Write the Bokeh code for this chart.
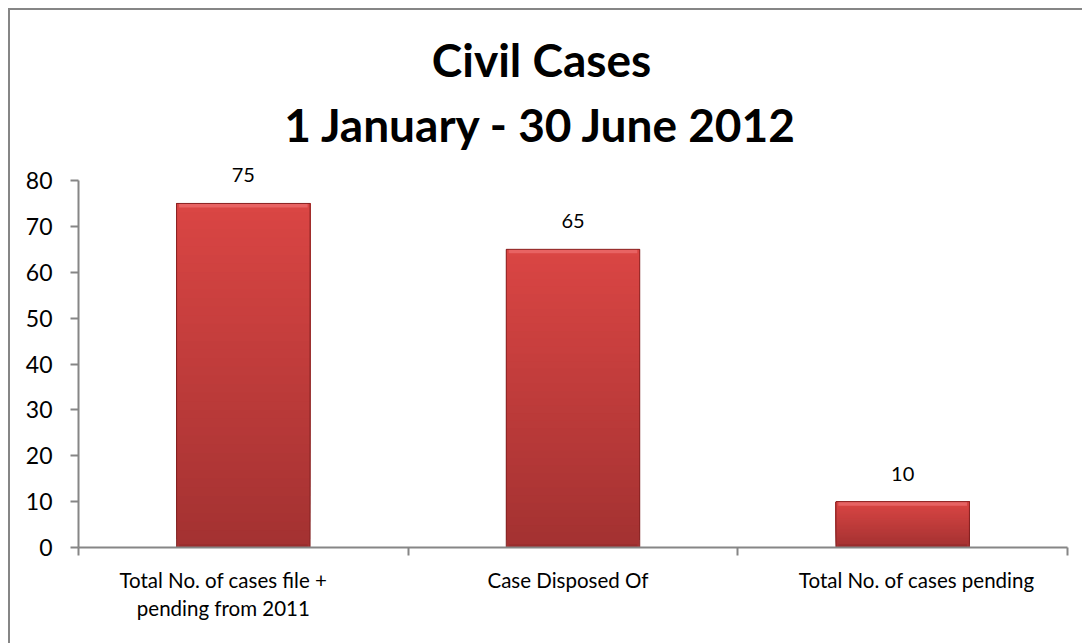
from bokeh.plotting import figure
from bokeh.models import Range1d, FixedTicker, ColumnDataSource, LabelSet
from bokeh.core.properties import value
from bokeh.embed import file_html
from bokeh.resources import INLINE

# ---- data ----
categories = ["Total No. of cases file +\npending from 2011", "Case Disposed Of", "Total No. of cases pending"]
values = [75, 65, 10]
y_ticks = [0, 10, 20, 30, 40, 50, 60, 70, 80]
title_lines = ["Civil Cases", "1 January - 30 June 2012"]

FONT = "Lato"
GRAY = "#868686"

W, H = 1082, 643
FL, FR, FT, FB = 78, 1067, 10, 547      # frame edges in page pixels
Y_AXIS_TOP_PX = 180                      # pixel row of the 80 tick
YMAX_AXIS = 80
ppu = (FB - Y_AXIS_TOP_PX) / YMAX_AXIS   # pixels per y unit
ymax = (FB - FT) / ppu
ncat = len(categories)
ppx = (FR - FL) / ncat

p = figure(width=W, height=H, output_backend="svg", toolbar_location=None,
           x_range=Range1d(0, ncat), y_range=Range1d(0, ymax),
           min_border_left=FL, min_border_right=W - FR, min_border_top=FT, min_border_bottom=H - FB)
p.outline_line_color = None
p.grid.visible = False
p.background_fill_color = None
p.border_fill_color = None
p.styles = {
    "background-color": "white",
    "background-image": "linear-gradient(#868686, #868686), linear-gradient(#868686, #868686)",
    "background-size": "100% 2px, 2px 100%",
    "background-position": "8px 8px, 8px 8px",
    "background-repeat": "no-repeat",
}

xs = [i + 0.5 for i in range(ncat)]
bw = 0.405

# gradient bars: overlapping bands drawn bottom-up (no seams)
N = 40
top_c = (218, 70, 68)
bot_c = (164, 50, 50)
bx, bb, bt, bc = [], [], [], []
for x, v in zip(xs, values):
    for k in range(N):
        f = k / (N - 1)
        r = int(bot_c[0] + (top_c[0] - bot_c[0]) * f)
        g = int(bot_c[1] + (top_c[1] - bot_c[1]) * f)
        b = int(bot_c[2] + (top_c[2] - bot_c[2]) * f)
        bx.append(x)
        bb.append(v * k / N)
        bt.append(v)
        bc.append("#%02x%02x%02x" % (r, g, b))
p.vbar(x=bx, bottom=bb, top=bt, width=bw, fill_color=bc, line_color=None)

# bevel: light top strip, darker bottom strip, dark outline
strip = 4.0 / ppu
p.vbar(x=xs, bottom=[v - strip for v in values], top=values, width=bw - 0.015,
       fill_color="#ea6868", fill_alpha=0.85, line_color=None)
p.vbar(x=xs, bottom=[0] * ncat, top=[strip * 0.8] * ncat, width=bw - 0.015,
       fill_color="#8e2828", fill_alpha=0.5, line_color=None)
p.vbar(x=xs, bottom=[0] * ncat, top=values, width=bw, fill_color=None,
       line_color="#7a1c1c", line_width=1, line_alpha=0.85)

# value labels
src = ColumnDataSource(dict(x=xs, y=values, t=[str(v) for v in values]))
p.add_layout(LabelSet(x="x", y="y", text="t", source=src, x_offset=0, y_offset=21,
                      text_align="center", text_baseline="bottom",
                      text_font=value(FONT), text_font_size=value("20px"), text_color="#000000"))

# title lines (positioned in page pixels, converted through the scales)
title_cx = [541, 541]
title_base = [59, 124]
p.text(x=[(cx - FL) / ppx for cx in title_cx], y=[(FB - b) / ppu for b in title_base],
       text=title_lines, text_font=value(FONT), text_font_style="bold",
       text_font_size=value("46px"), text_color="#000000",
       text_align="center", text_baseline="alphabetic")

# y axis
ya = p.yaxis[0]
ya.bounds = (0, YMAX_AXIS)
ya.ticker = FixedTicker(ticks=y_ticks, minor_ticks=[])
ya.axis_line_color = GRAY
ya.axis_line_width = 2
ya.major_tick_line_color = GRAY
ya.major_tick_line_width = 2
ya.major_tick_in = 0
ya.major_tick_out = 8
ya.minor_tick_line_color = None
ya.major_label_text_font = FONT
ya.major_label_text_font_size = "23px"
ya.major_label_text_color = "#000000"
ya.major_label_standoff = 18

# x axis: labels slightly shifted as in the original, boundary ticks between categories
label_shift_px = [-20, -5, 14]
label_pos = [x + s / ppx for x, s in zip(xs, label_shift_px)]
xa = p.xaxis[0]
xa.ticker = FixedTicker(ticks=label_pos, minor_ticks=list(range(ncat + 1)))
xa.major_label_overrides = {x: c for x, c in zip(label_pos, categories)}
xa.axis_line_color = GRAY
xa.axis_line_width = 2
xa.major_tick_line_color = None
xa.major_tick_in = 0
xa.major_tick_out = 0
xa.minor_tick_line_color = GRAY
xa.minor_tick_line_width = 2
xa.minor_tick_in = 0
xa.minor_tick_out = 8
xa.major_label_text_font = FONT
xa.major_label_text_font_size = "20.5px"
xa.major_label_text_color = "#000000"
xa.major_label_standoff = 12

open("out.html", "w").write(file_html(p, INLINE))
